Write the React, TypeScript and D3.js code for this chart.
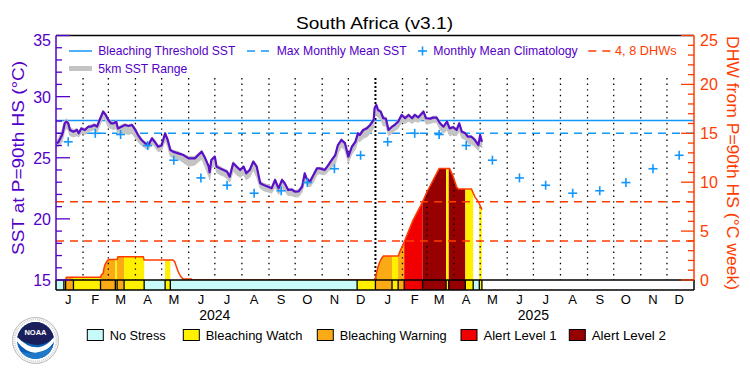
import React from 'react';
import * as d3 from 'd3';

// ---------- data ----------
const monthLetters = ['J', 'F', 'M', 'A', 'M', 'J', 'J', 'A', 'S', 'O', 'N', 'D'];
const years = [2024, 2025];
const climatology = [26.3, 27.0, 26.9, 26.0, 24.8, 23.35, 22.75, 22.1, 22.3, 22.97, 24.1, 25.2];
const bleachingThreshold = 28.05;
const maxMonthlyMean = 27.0;
const dhwLevels = [4, 8];
const sstTicks = [15, 20, 25, 30, 35];
const dhwTicks = [0, 5, 10, 15, 20, 25];

// days since 2024-01-01
const sstDay = [1, 3, 5, 7, 8, 10, 12, 14, 16, 20, 24, 26, 29, 33, 37, 40, 44, 47, 50, 54, 57, 60, 63, 66, 69, 71, 75, 79, 83, 87, 91, 94, 98, 102, 106, 110, 113, 117, 121, 125, 128, 131, 134, 140, 146, 152, 159, 167, 171, 175, 176, 178, 182, 184, 188, 192, 196, 199, 203, 207, 211, 215, 218, 222, 226, 230, 234, 238, 243, 247, 251, 255, 259, 262, 266, 270, 274, 278, 282, 285, 287, 291, 295, 299, 302, 308, 312, 316, 320, 323, 327, 331, 335, 339, 343, 346, 348, 352, 356, 360, 364, 365, 367, 369, 372, 375, 378, 381, 385, 388, 392, 396, 400, 404, 408, 411, 415, 421, 424, 429, 432, 436, 440, 444, 448, 451, 455, 459, 462, 465, 469, 472, 476, 480, 484, 486, 488];
const sstValue = [26.18, 26.3, 26.59, 26.86, 27.13, 27.82, 27.95, 27.82, 27.27, 27.13, 27.27, 27.0, 27.4, 27.27, 27.54, 27.54, 27.68, 27.54, 28.09, 28.77, 28.5, 28.09, 27.82, 27.82, 27.95, 27.4, 27.54, 27.68, 27.6, 27.68, 27.27, 26.86, 26.45, 26.18, 26.04, 26.59, 26.31, 25.9, 26.0, 27.0, 26.45, 25.63, 25.5, 25.36, 25.22, 24.95, 24.95, 25.5, 24.95, 24.27, 23.8, 24.82, 25.09, 24.27, 24.13, 24.0, 23.86, 23.45, 24.55, 24.27, 24.0, 24.27, 23.73, 24.0, 24.68, 24.27, 22.91, 22.77, 22.63, 22.5, 23.18, 22.5, 23.18, 22.91, 22.36, 22.4, 22.22, 22.25, 22.63, 23.73, 23.32, 23.04, 23.59, 24.13, 24.13, 24.0, 24.4, 24.82, 25.22, 26.04, 26.45, 26.2, 25.09, 25.9, 26.3, 27.0, 26.86, 27.27, 27.4, 27.68, 28.09, 29.05, 29.32, 28.9, 28.77, 28.23, 28.2, 27.27, 27.54, 27.68, 27.95, 28.5, 28.23, 28.5, 28.23, 28.5, 28.3, 28.77, 28.23, 28.2, 28.28, 28.28, 27.82, 27.54, 27.95, 27.4, 27.5, 27.27, 27.82, 27.13, 27.0, 26.72, 26.72, 26.45, 26.04, 26.86, 26.3];
const sstLow = [25.9, 25.9, 26.1, 26.3, 26.6, 27.2, 27.4, 27.3, 26.8, 26.7, 26.8, 26.7, 27.0, 26.9, 27.1, 27.2, 27.3, 27.1, 27.6, 28.3, 28.0, 27.5, 27.4, 27.3, 27.4, 26.9, 27.0, 27.0, 26.9, 27.0, 26.6, 26.3, 26.0, 25.8, 25.7, 26.1, 25.9, 25.5, 25.6, 26.4, 25.9, 25.1, 25.0, 24.9, 24.6, 24.3, 24.4, 24.9, 24.2, 23.5, 23.2, 24.1, 24.4, 23.8, 23.6, 23.5, 23.3, 23.0, 23.9, 23.6, 23.4, 23.6, 23.2, 23.4, 24.0, 23.4, 22.5, 22.3, 22.2, 22.1, 22.6, 22.0, 22.5, 22.3, 21.9, 21.9, 21.8, 21.8, 22.2, 23.1, 22.8, 22.6, 23.0, 23.6, 23.7, 23.6, 23.9, 24.2, 24.5, 25.3, 25.9, 25.6, 24.6, 25.3, 25.7, 26.4, 26.3, 26.6, 26.7, 27.0, 27.4, 28.3, 28.6, 28.3, 28.2, 27.6, 27.6, 26.8, 27.0, 27.2, 27.4, 27.9, 27.8, 28.0, 27.8, 28.0, 27.9, 28.2, 27.8, 27.8, 27.9, 27.9, 27.3, 27.0, 27.3, 26.8, 26.9, 26.8, 27.2, 26.6, 26.5, 26.2, 26.1, 25.9, 25.6, 26.1, 25.8];
const sstHigh = [26.4, 26.6, 27.0, 27.3, 27.6, 28.0, 28.2, 28.0, 27.5, 27.3, 27.4, 27.2, 27.5, 27.4, 27.6, 27.7, 27.8, 27.7, 28.2, 28.9, 28.6, 28.2, 28.0, 27.9, 28.1, 27.5, 27.7, 27.8, 27.7, 27.8, 27.4, 27.0, 26.6, 26.3, 26.2, 26.7, 26.5, 26.0, 26.2, 27.1, 26.6, 25.8, 25.6, 25.5, 25.3, 25.1, 25.1, 25.6, 25.0, 24.4, 24.0, 24.9, 25.2, 24.4, 24.3, 24.1, 24.0, 23.6, 24.7, 24.4, 24.1, 24.4, 23.9, 24.1, 24.8, 24.4, 23.1, 22.9, 22.8, 22.6, 23.3, 22.6, 23.3, 23.0, 22.5, 22.5, 22.3, 22.4, 22.8, 23.8, 23.4, 23.2, 23.7, 24.2, 24.2, 24.1, 24.5, 24.9, 25.3, 26.1, 26.6, 26.3, 25.3, 26.0, 26.4, 27.1, 27.0, 27.4, 27.5, 27.8, 28.2, 29.1, 29.4, 29.0, 28.9, 28.4, 28.3, 27.4, 27.6, 27.8, 28.1, 28.6, 28.4, 28.6, 28.3, 28.6, 28.4, 28.9, 28.3, 28.3, 28.4, 28.4, 27.9, 27.6, 28.0, 27.5, 27.6, 27.4, 27.9, 27.2, 27.1, 26.8, 26.8, 26.6, 26.2, 26.9, 26.4];

const dhwDay = [11, 12, 51, 52, 54, 55, 56, 58, 60, 70, 71, 100, 101, 134, 136, 138, 140, 142, 144, 146, 155, 156, 365, 366, 368, 369, 371, 373, 375, 392, 394, 399, 409, 419, 425, 432, 439, 451, 455, 459, 461, 476, 480, 484, 488];
const dhwValue = [0, 0.28, 0.28, 0.51, 0.68, 1.2, 1.53, 1.87, 2.1, 2.1, 2.38, 2.38, 2.05, 2.05, 1.87, 1.36, 0.85, 0.5, 0.24, 0.1, 0.1, 0, 0, 0.17, 1.0, 1.36, 1.87, 2.2, 2.45, 2.45, 2.9, 3.9, 6.1, 7.8, 9.0, 10.2, 11.4, 11.4, 10.6, 9.5, 9.3, 9.3, 8.5, 8.0, 7.2];

const stressStartDay = [0, 9, 11, 20, 51, 68, 70, 78, 101, 125, 131, 345, 366, 385, 392, 399, 420, 447, 450, 469, 478, 485];
const stressLevel = [0, 1, 2, 1, 2, 1, 2, 1, 0, 1, 0, 1, 2, 1, 2, 3, 4, 1, 4, 1, 0, 1];
const stressEndDay = 488;
const stressNames = ['No Stress', 'Bleaching Watch', 'Bleaching Warning', 'Alert Level 1', 'Alert Level 2'];
const stressColors = ['#c8fafa', '#fff000', '#faaa14', '#f00000', '#960000'];

// ---------- styling ----------
const PURPLE = '#5500c8';
const LINE_PURPLE = '#5a10c8';
const BLUE = '#1496fa';
const RED = '#ff3c00';
const FONT = '"Liberation Sans", Arial, sans-serif';

const T0 = new Date(2024, 0, 1).getTime();
const dayToDate = (d: number) => new Date(T0 + d * 86400000);

export default function App() {
  const left = 56, right = 694, top = 35.5, base = 280, barBottom = 290, gridTop = 78;
  const x = d3.scaleTime().domain([new Date(2024, 0, 1), new Date(2026, 0, 1)]).range([left, right]);
  const ySst = d3.scaleLinear().domain([15, 35]).range([base, top]);
  const yDhw = d3.scaleLinear().domain([0, 25]).range([base, top]);

  const sstLine = d3.line<number>().x((_, i) => x(dayToDate(sstDay[i]))).y((v) => ySst(v));
  const rangeArea = d3.area<number>()
    .x((_, i) => x(dayToDate(sstDay[i])))
    .y0((_, i) => ySst(sstLow[i]))
    .y1((_, i) => ySst(sstHigh[i]));
  const dhwLine = d3.line<number>().x((_, i) => x(dayToDate(dhwDay[i]))).y((v) => yDhw(v));
  const dhwArea = d3.area<number>().x((_, i) => x(dayToDate(dhwDay[i]))).y0(base).y1((v) => yDhw(v));

  const segments = stressStartDay.map((s, i) => ({
    x0: x(dayToDate(s)),
    x1: x(dayToDate(i < stressStartDay.length - 1 ? stressStartDay[i + 1] : stressEndDay)),
    level: stressLevel[i],
  }));

  const monthStarts: Date[] = [];
  years.forEach((yr) => monthLetters.forEach((_, m) => monthStarts.push(new Date(yr, m, 1))));

  const crosses: { cx: number; cy: number }[] = [];
  years.forEach((yr) => climatology.forEach((v, m) => crosses.push({ cx: x(new Date(yr, m, 15)), cy: ySst(v) })));

  const sstMinor = d3.range(15, 36, 1);
  const dhwMinor = d3.range(0, 26, 1);

  return (
    <svg width={750} height={375} style={{ position: 'absolute', left: 0, top: 0, background: '#fff' }} fontFamily={FONT}>
      <defs>
        <clipPath id="dhwClip">
          <path d={dhwArea(dhwValue) || ''} />
        </clipPath>
        <clipPath id="logoClip">
          <circle cx={35.5} cy={340.5} r={18.5} />
        </clipPath>
      </defs>
      <rect x={0} y={0} width={750} height={375} fill="#fff" />

      {/* title */}
      <text x={374.5} y={29} fontSize={17} textAnchor="middle" fill="#000" textLength={157} lengthAdjust="spacingAndGlyphs">South Africa (v3.1)</text>

      {/* DHW fill coloured by stress level */}
      <g clipPath="url(#dhwClip)">
        {segments.filter((s) => s.level > 0).map((s, i) => (
          <rect key={i} x={s.x0} y={top} width={s.x1 - s.x0} height={base - top} fill={stressColors[s.level]} />
        ))}
      </g>

      {/* month dotted lines */}
      {monthStarts.slice(1).map((d, i) => {
        const isYear = d.getMonth() === 0;
        return (
          <line key={i} x1={x(d)} x2={x(d)} y1={gridTop} y2={base} stroke="#000"
            strokeWidth={isYear ? 2 : 1.3} strokeDasharray={isYear ? '2,2' : '1.4,4.2'} />
        );
      })}

      {/* reference lines */}
      <line x1={left} x2={right} y1={ySst(bleachingThreshold)} y2={ySst(bleachingThreshold)} stroke={BLUE} strokeWidth={1.5} />
      <line x1={left} x2={right} y1={ySst(maxMonthlyMean)} y2={ySst(maxMonthlyMean)} stroke={BLUE} strokeWidth={1.5} strokeDasharray="8,6" />
      {dhwLevels.map((l) => (
        <line key={l} x1={left} x2={right} y1={yDhw(l)} y2={yDhw(l)} stroke={RED} strokeWidth={1.5} strokeDasharray="8,6" />
      ))}

      {/* DHW line */}
      <path d={dhwLine(dhwValue) || ''} fill="none" stroke={RED} strokeWidth={1.5} />

      {/* SST range & line */}
      <path d={rangeArea(sstValue) || ''} fill="#c4c4c4" stroke="#c4c4c4" strokeWidth={1} />
      <path d={sstLine(sstValue) || ''} fill="none" stroke={LINE_PURPLE} strokeWidth={2.2} strokeLinejoin="round" />

      {/* climatology crosses */}
      {crosses.map((c, i) => (
        <g key={i} stroke={BLUE} strokeWidth={1.6}>
          <line x1={c.cx - 4.5} x2={c.cx + 4.5} y1={c.cy} y2={c.cy} />
          <line x1={c.cx} x2={c.cx} y1={c.cy - 4.5} y2={c.cy + 4.5} />
        </g>
      ))}

      {/* stress bar */}
      {segments.map((s, i) => (
        <rect key={i} x={s.x0} y={base} width={s.x1 - s.x0} height={barBottom - base} fill={stressColors[s.level]} />
      ))}
      {segments.slice(1).map((s, i) => (
        <line key={i} x1={s.x0} x2={s.x0} y1={base} y2={barBottom} stroke="#000" strokeWidth={1.3} />
      ))}
      <line x1={segments[segments.length - 1].x1} x2={segments[segments.length - 1].x1} y1={base} y2={barBottom} stroke="#000" strokeWidth={1.3} />
      <line x1={left} x2={right} y1={base} y2={base} stroke="#000" strokeWidth={1.5} />
      <line x1={left} x2={right} y1={barBottom} y2={barBottom} stroke="#000" strokeWidth={1.5} />
      <line x1={left} x2={left} y1={base} y2={barBottom} stroke="#000" strokeWidth={1.5} />
      <line x1={right} x2={right} y1={base} y2={barBottom} stroke="#000" strokeWidth={1.5} />
      <line x1={left} x2={right} y1={top} y2={top} stroke="#000" strokeWidth={1.5} />

      {/* left axis */}
      <line x1={left} x2={left} y1={top} y2={base} stroke={PURPLE} strokeWidth={1.5} />
      {sstMinor.map((v) => (
        <line key={v} x1={left} x2={left + (v % 5 === 0 ? 14 : 6)} y1={ySst(v)} y2={ySst(v)} stroke={PURPLE} strokeWidth={1.3} />
      ))}
      {sstTicks.map((v) => (
        <text key={v} x={51} y={Math.max(ySst(v), 39.5) + 6} fontSize={16} textAnchor="end" fill={PURPLE}>{v}</text>
      ))}
      <text transform="translate(18,158) rotate(-90)" fontSize={16} textAnchor="middle" dominantBaseline="central" fill={PURPLE} textLength={194} lengthAdjust="spacingAndGlyphs">SST at P=90th HS (°C)</text>

      {/* right axis */}
      <line x1={right} x2={right} y1={top} y2={base} stroke={RED} strokeWidth={1.5} />
      {dhwMinor.map((v) => (
        <line key={v} x1={right} x2={right - (v % 5 === 0 ? 13 : 6)} y1={yDhw(v)} y2={yDhw(v)} stroke={RED} strokeWidth={1.3} />
      ))}
      {dhwTicks.map((v) => (
        <text key={v} x={700} y={Math.max(yDhw(v), 40.3) + 6} fontSize={16} textAnchor="start" fill={RED}>{v}</text>
      ))}
      <text transform="translate(732,163) rotate(90)" fontSize={16} textAnchor="middle" dominantBaseline="central" fill={RED} textLength={254} lengthAdjust="spacingAndGlyphs">DHW from P=90th HS (°C week)</text>

      {/* month and year labels */}
      {years.map((yr) =>
        monthLetters.map((m, i) => (
          <text key={`${yr}-${i}`} x={x(new Date(yr, i, 15))} y={303.5} fontSize={13} textAnchor="middle" fill="#000">{m}</text>
        ))
      )}
      {years.map((yr) => (
        <text key={yr} x={x(new Date(yr, 6, 1))} y={319.5} fontSize={14} textAnchor="middle" fill="#000">{yr}</text>
      ))}

      {/* top legend */}
      <line x1={69} x2={92} y1={51} y2={51} stroke={BLUE} strokeWidth={1.5} />
      <text x={98.3} y={55} fontSize={13} fill={PURPLE} textLength={137} lengthAdjust="spacingAndGlyphs">Bleaching Threshold SST</text>
      <line x1={247} x2={270} y1={51} y2={51} stroke={BLUE} strokeWidth={1.5} strokeDasharray="8,6" />
      <text x={276.7} y={55} fontSize={13} fill={PURPLE} textLength={130} lengthAdjust="spacingAndGlyphs">Max Monthly Mean SST</text>
      <g stroke={BLUE} strokeWidth={1.6}>
        <line x1={418} x2={427} y1={51} y2={51} />
        <line x1={422.5} x2={422.5} y1={46.5} y2={55.5} />
      </g>
      <text x={433.3} y={55} fontSize={13} fill={PURPLE} textLength={144.4} lengthAdjust="spacingAndGlyphs">Monthly Mean Climatology</text>
      <line x1={588.3} x2={611.7} y1={51} y2={51} stroke={RED} strokeWidth={1.5} strokeDasharray="8,6" />
      <text x={615} y={55} fontSize={13} fill={RED} textLength={61.7} lengthAdjust="spacingAndGlyphs">4, 8 DHWs</text>
      <line x1={69} x2={92} y1={68.5} y2={68.5} stroke="#c4c4c4" strokeWidth={5} />
      <text x={98.3} y={73} fontSize={13} fill={PURPLE} textLength={89} lengthAdjust="spacingAndGlyphs">5km SST Range</text>

      {/* bottom legend */}
      {stressNames.map((n, i) => {
        const bx = [87.3, 183.3, 317.3, 461, 569.3][i];
        const tw = [56, 96.7, 107, 73.3, 74.3][i];
        return (
          <g key={n}>
            <rect x={bx} y={329.5} width={16} height={11} fill={stressColors[i]} stroke="#000" strokeWidth={1} />
            <text x={bx + 22.4} y={340.3} fontSize={13} fill="#000" textLength={tw} lengthAdjust="spacingAndGlyphs">{n}</text>
          </g>
        );
      })}

      {/* NOAA logo */}
      <g>
        <circle cx={35.5} cy={340.5} r={23} fill="#fff" stroke="#b8b8b8" strokeWidth={1} />
        <circle cx={35.5} cy={340.5} r={21} fill="none" stroke="#d0d0d0" strokeWidth={2} strokeDasharray="1,1" />
        <circle cx={35.5} cy={340.5} r={18.5} fill="#0a5fb4" />
        <g clipPath="url(#logoClip)">
          <path d="M10 315 H62 V328 Q52 344 38 345 Q24 345 10 332 Z" fill="#1a1f5c" />
          <path d="M14 333 Q26 349 40 347 Q50 345 58 331 L58 335 Q50 352 36 353 Q23 352 14 337 Z" fill="#fff" />
          <path d="M22 352 Q36 356 54 346 L60 360 L20 362 Z" fill="#1f78c8" />
        </g>
        <text x={35.5} y={335} fontSize={7.5} fontWeight="bold" fill="#fff" textAnchor="middle">NOAA</text>
      </g>
    </svg>
  );
}
